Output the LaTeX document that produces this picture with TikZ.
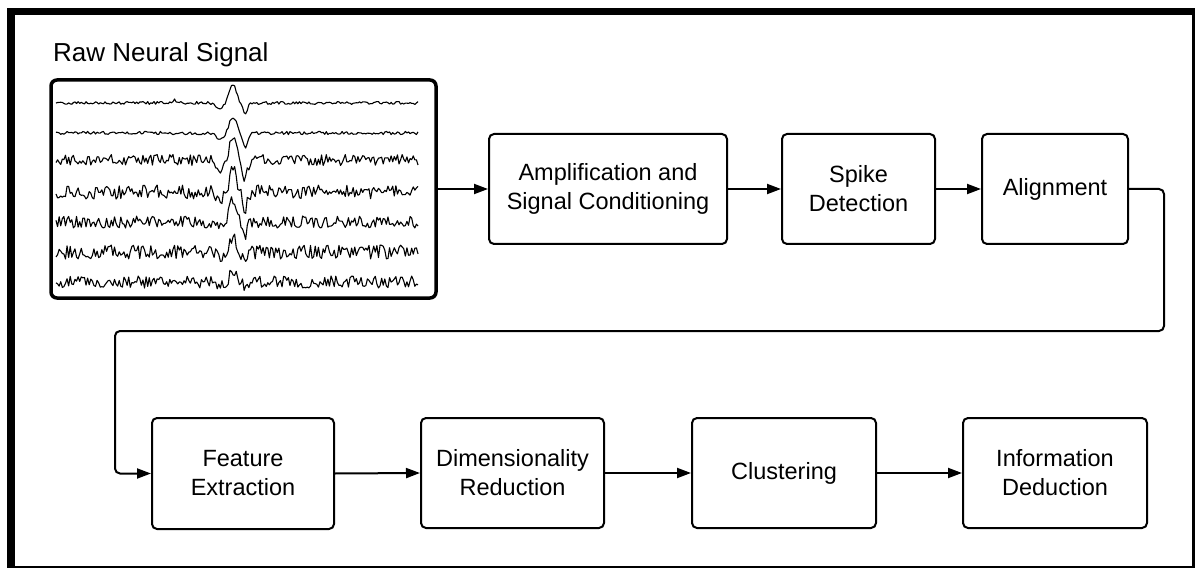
\documentclass[tikz,border=0pt]{standalone}
\usepackage{fontspec}
\setmainfont{Liberation Sans}
\usetikzlibrary{arrows.meta}

\tikzset{
  stagebox/.style={draw=black, line width=2pt, rounded corners=5pt, fill=white,
    minimum height=110pt, inner sep=0pt, align=center,
    font=\fontsize{23.5}{29}\selectfont},
  flow/.style={draw=black, line width=2pt, rounded corners=5pt,
    -{Triangle[length=14pt,width=10pt]}},
  wave/.style={draw=black, line width=1.1pt, line join=round},
  declare function={bump(\t)=exp(max(-9,-(\t)*(\t)));}
}

\begin{document}
\begin{tikzpicture}[x=1pt,y=-1pt]
  \useasboundingbox (0,0) rectangle (1196,569);
  \fill[white] (0,0) rectangle (1196,569);

  % outer frame: heavy on the left and top, light on the right and bottom
  \fill[black] (7,8) rectangle (1195,568);
  \fill[white] (15,15) rectangle (1192,565.5);

  % heading
  \node[anchor=base west, inner sep=0pt, font=\fontsize{26}{30}\selectfont]
    (title) at (53,62) {Raw Neural Signal};

  % recorded channels: noise plus the shared spike waveform
  \foreach \yb/\na/\pa/\da/\sa/\seed in
    {103/1.5/18/10/3/11, 133/1.6/16/14/0/23, 160/5.5/20/18/0/37, 192/7/22/16/0/41,
     222/6/22/12/0/53, 252/7/13/12/0/67, 282/6/9/5/0/79} {
    \pgfmathsetseed{\seed}
    \draw[wave] plot[domain=56:418, samples=230]
      (\x, {\yb + \na*rand
            - \sa*bump((\x-174)/3)
            + 0.5*\da*bump((\x-220)/5)
            - \pa*bump((\x-233)/5)
            + \da*bump((\x-245)/3.5)});
  }

  \node[draw=black, line width=3.5pt, rounded corners=6pt,
        minimum width=385pt, minimum height=218pt, inner sep=0pt]
    (sig) at (243.5,189) {};

  % processing stages
  \node[stagebox, minimum width=238pt] (amp)   at (608,189)
    {Amplification and\\Signal Conditioning};
  \node[stagebox, minimum width=153pt] (spike) at (858.5,189)
    {Spike\\Detection};
  \node[stagebox, minimum width=146pt] (align) at (1055,189)
    {Alignment};
  \node[stagebox, minimum width=182pt, minimum height=111pt] (feat) at (243,473.5)
    {Feature\\Extraction};
  \node[stagebox, minimum width=183pt] (dim)   at (512.5,473)
    {Dimensionality\\Reduction};
  \node[stagebox, minimum width=184pt] (clust) at (784,473)
    {Clustering};
  \node[stagebox, minimum width=184pt] (info)  at (1055,473)
    {Information\\Deduction};

  % connectors
  \draw[flow] (sig.east) -- (amp.west);
  \draw[flow] (amp.east) -- (spike.west);
  \draw[flow] (spike.east) -- (align.west);

  \coordinate (turnR) at (1164,331);
  \coordinate (turnL) at (115,331);
  \draw[flow] (align.east) -| (turnR) -- (turnL) |- (feat.west);

  \draw[flow] (feat.east) -- (dim.west);
  \draw[flow] (dim.east) -- (clust.west);
  \draw[flow] (clust.east) -- (info.west);
\end{tikzpicture}
\end{document}
